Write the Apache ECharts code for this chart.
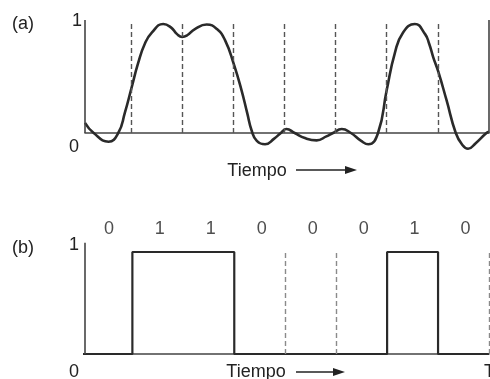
<!DOCTYPE html>
<html><head><meta charset="utf-8">
<script src="https://cdn.jsdelivr.net/npm/echarts@6/dist/echarts.min.js"></script>
<style>html,body{margin:0;padding:0;background:#fff}#c{width:490px;height:379px}</style>
</head><body><div id="c"></div>
<script>
// ---- data ----
const curveX = [0.10,0.27,0.56,0.75,0.88,1.01,1.14,1.27,1.41,1.63,1.78,1.90,2.00,2.10,2.25,2.48,2.68,2.84,3.01,3.16,3.27,3.36,3.46,3.62,3.80,3.93,4.04,4.20,4.40,4.63,4.82,4.95,5.12,5.30,5.50,5.64,5.83,6.00,6.16,6.32,6.55,6.75,6.83,6.91,7.01,7.17,7.35,7.47,7.59,7.74,7.95,8.00];
const curveY = [0.09,0.00,-0.077,0.00,0.18,0.40,0.62,0.79,0.89,0.965,0.935,0.875,0.85,0.865,0.92,0.96,0.92,0.82,0.61,0.38,0.18,0.02,-0.07,-0.10,-0.05,0.00,0.035,0.00,-0.045,-0.065,-0.03,0.00,0.035,0.00,-0.07,-0.10,0.00,0.38,0.71,0.89,0.965,0.875,0.79,0.67,0.54,0.29,0.00,-0.10,-0.14,-0.09,0.00,0.01];
const bits = [0,1,1,0,0,0,1,0];
const bitLabels = ['0','1','1','0','0','0','1','0'];
const topDashes = [1,2,3,4,5,6,7];
const bottomDashes = [4,5,8];
const yTickLabels = ['0','1'];
const panelLabels = ['(a)','(b)'];
const timeLabel = 'Tiempo';
const endLabel = 'T';

const FONT = "'Liberation Sans', Arial, sans-serif";
const ink = '#222';
const axisCol = '#444';
const dashCol = '#555';

const curveData = curveX.map((x,i)=>[x,curveY[i]]);
const stepData = [];
bits.forEach((b,k)=>{ stepData.push([k,b]); stepData.push([k+1,b]); });
const bitData = bits.map((b,k)=>[k+0.5,1.225,bitLabels[k]]);

function vline(x,y0,y1,dashed,col){
  return [{coord:[x,y0],lineStyle:{type:dashed?[5,3]:'solid',color:col,width:dashed?1.4:1.6}},{coord:[x,y1]}];
}
const topLines = [vline(0.1,0,1,false,axisCol), vline(8,0,1,false,axisCol)].concat(topDashes.map(k=>vline(k,0,0.98,true,dashCol)));
const botLines = [vline(0.07,0,1.09,false,axisCol)].concat(bottomDashes.map(k=>vline(k,0,0.99,true,'#8a8a8a')));

function txt(x,y,s,align){
  return {type:'text',x:x,y:y,silent:true,style:{text:s,fontSize:18,fontFamily:FONT,fill:ink,align:align||'center',verticalAlign:'middle'}};
}
function arrow(x0,x1,y){
  return [
    {type:'line',silent:true,shape:{x1:x0,y1:y,x2:x1-8,y2:y},style:{stroke:ink,lineWidth:1.5}},
    {type:'polygon',silent:true,shape:{points:[[x1-12,y-4],[x1,y],[x1-12,y+4]]},style:{fill:ink}}
  ];
}

const chart = echarts.init(document.getElementById('c'));
chart.setOption({
  animation:false,
  grid:[
    {left:85,right:1,top:20,height:135.6},
    {left:85,right:1,top:221.4,height:132.6}
  ],
  xAxis:[
    {gridIndex:0,type:'value',min:0.1,max:8,axisLine:{show:true,onZero:true,lineStyle:{color:axisCol,width:1.6}},axisTick:{show:false},axisLabel:{show:false},splitLine:{show:false}},
    {gridIndex:1,type:'value',min:0.07,max:8,axisLine:{show:true,lineStyle:{color:axisCol,width:1.6}},axisTick:{show:false},axisLabel:{show:false},splitLine:{show:false}}
  ],
  yAxis:[
    {gridIndex:0,type:'value',min:-0.2,max:1,show:true,axisLine:{show:false},axisTick:{show:false},axisLabel:{show:false},splitLine:{show:false}},
    {gridIndex:1,type:'value',min:0,max:1.3,show:true,axisLine:{show:false},axisTick:{show:false},axisLabel:{show:false},splitLine:{show:false}}
  ],
  series:[
    {type:'line',xAxisIndex:0,yAxisIndex:0,data:curveData,smooth:0.5,showSymbol:false,symbol:'none',
     lineStyle:{color:'#2a2a2a',width:2.6},
     markLine:{silent:true,symbol:['none','none'],label:{show:false},data:topLines}},
    {type:'line',xAxisIndex:1,yAxisIndex:1,data:stepData,showSymbol:false,symbol:'none',
     lineStyle:{color:'#2a2a2a',width:2.2},
     markLine:{silent:true,symbol:['none','none'],label:{show:false},data:botLines}},
    {type:'scatter',xAxisIndex:1,yAxisIndex:1,data:bitData,symbolSize:0,silent:true,
     label:{show:true,position:'inside',offset:[2,0],formatter:p=>p.data[2],fontSize:18,fontFamily:FONT,color:ink}}
  ],
  graphic:[
    txt(23,24,panelLabels[0]),
    txt(77,21,yTickLabels[1]),
    txt(74,147,yTickLabels[0]),
    txt(257,171,timeLabel),
    txt(23,248,panelLabels[1]),
    txt(74,245,yTickLabels[1]),
    txt(74,372,yTickLabels[0]),
    txt(256,372,timeLabel),
    txt(484,372,endLabel,'left')
  ].concat(arrow(296,357,170)).concat(arrow(296,345,372))
});
</script></body></html>
